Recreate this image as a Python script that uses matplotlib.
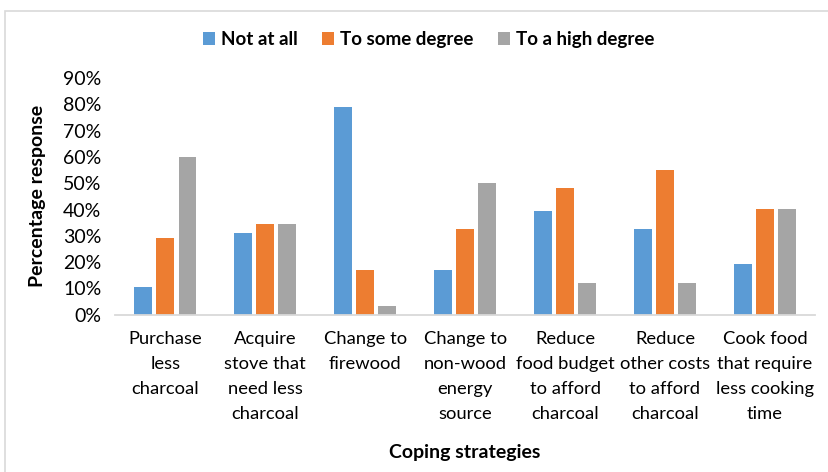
import matplotlib
matplotlib.use("Agg")
import matplotlib.pyplot as plt
import numpy as np
from matplotlib.patches import Rectangle

categories = ["Purchase\nless\ncharcoal", "Acquire\nstove that\nneed less\ncharcoal",
              "Change to\nfirewood", "Change to\nnon-wood\nenergy\nsource",
              "Reduce\nfood budget\nto afford\ncharcoal", "Reduce\nother costs\nto afford\ncharcoal",
              "Cook food\nthat require\nless cooking\ntime"]
series_names = ["Not at all", "To some degree", "To a high degree"]
not_at_all = [0.104, 0.310, 0.790, 0.172, 0.395, 0.327, 0.192]
some_degree = [0.292, 0.344, 0.172, 0.327, 0.482, 0.551, 0.402]
high_degree = [0.601, 0.344, 0.034, 0.499, 0.121, 0.121, 0.402]
yticks = [0, 0.1, 0.2, 0.3, 0.4, 0.5, 0.6, 0.7, 0.8, 0.9]
ytick_labels = ["0%", "10%", "20%", "30%", "40%", "50%", "60%", "70%", "80%", "90%"]
colors = ["#5B9BD5", "#ED7D31", "#A5A5A5"]

plt.rcParams['font.family'] = ['Lato', 'DejaVu Sans']

fig = plt.figure(figsize=(8.29, 4.72), dpi=100)
ax = fig.add_axes([0.139, 0.333, 0.844, 0.502])

x = np.arange(len(categories))
pitch = 0.223
w = 0.18
for i, (vals, name, c) in enumerate(zip([not_at_all, some_degree, high_degree], series_names, colors)):
    ax.bar(x + (i - 1) * pitch, vals, width=w, color=c, label=name, zorder=2)

ax.set_xlim(-0.5, len(categories) - 0.5)
ax.set_ylim(0, 0.9)
ax.set_yticks(yticks)
ax.set_yticklabels(ytick_labels, fontsize=14)
ax.set_xticks(x)
ax.set_xticklabels(categories, fontsize=13.2, linespacing=1.68, va='top')
ax.tick_params(axis='both', length=0)
ax.tick_params(axis='x', pad=12)
ax.tick_params(axis='y', pad=10)
for s in ['top', 'right', 'left']:
    ax.spines[s].set_visible(False)
ax.spines['bottom'].set_color('#d9d9d9')
ax.spines['bottom'].set_linewidth(1.3)

ax.set_ylabel("Percentage response", fontsize=14, fontweight='bold', labelpad=12)
fig.text(0.561, 0.042, "Coping strategies", fontsize=14, fontweight='bold', ha='center', va='center')

leg = fig.legend(loc='center', bbox_to_anchor=(0.517, 0.916), ncol=3, frameon=False,
                 prop={'weight': 'bold', 'size': 13.5}, handlelength=0.65, handleheight=0.65,
                 handletextpad=0.3, columnspacing=1.3)

fig.patches.append(Rectangle((5 / 829, -0.1), 1.2, 1 - 11 / 472 + 0.1, transform=fig.transFigure,
                             fill=False, edgecolor='#d9d9d9', linewidth=1.2, zorder=0))

fig.savefig("out.png", dpi=100)
